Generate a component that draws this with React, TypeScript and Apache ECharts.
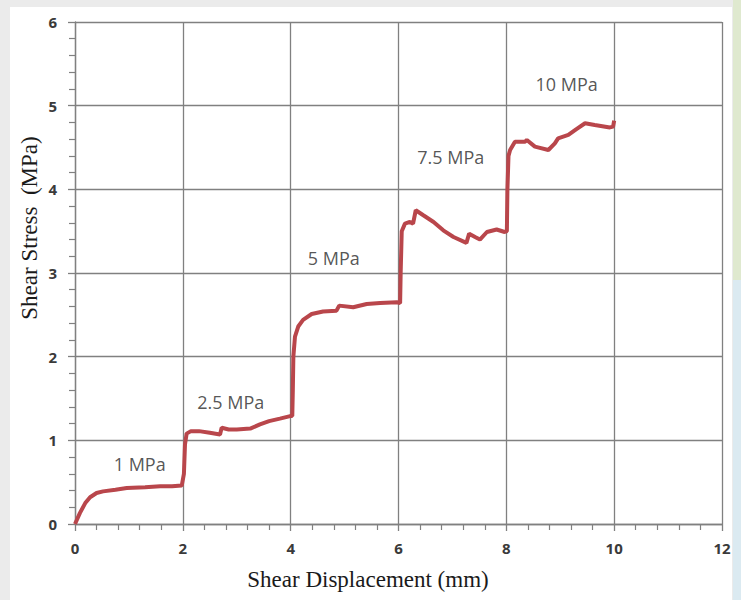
import React, { useEffect, useRef } from "react";
import * as echarts from "echarts";

const displacement = [
  0, 0.09, 0.19, 0.28, 0.4, 0.52, 0.75, 0.96, 1.3, 1.58, 1.8, 1.98,
  2.02, 2.04, 2.07, 2.15, 2.3, 2.5, 2.69, 2.72, 2.85, 3.0, 3.25, 3.43, 3.6, 3.8, 3.99,
  4.03, 4.04, 4.05, 4.08, 4.14, 4.23, 4.39, 4.6, 4.85, 4.9, 5.16, 5.41, 5.66, 5.97, 6.03,
  6.04, 6.06, 6.12, 6.21, 6.27, 6.32, 6.46, 6.65, 6.83, 7.02, 7.26, 7.31, 7.42, 7.51, 7.64, 7.82, 7.97, 8.01,
  8.02, 8.04, 8.07, 8.16, 8.35, 8.38, 8.53, 8.78, 8.9, 8.96, 9.15, 9.3, 9.46, 9.64, 9.92, 9.98, 10.0,
];
const stress = [
  0, 0.13, 0.25, 0.32, 0.37, 0.39, 0.41, 0.43, 0.44, 0.45, 0.45, 0.46,
  0.6, 0.95, 1.08, 1.11, 1.11, 1.09, 1.07, 1.15, 1.13, 1.13, 1.14, 1.19, 1.23, 1.26, 1.29,
  1.29, 1.6, 2.0, 2.24, 2.36, 2.44, 2.51, 2.54, 2.55, 2.61, 2.59, 2.63, 2.64, 2.65, 2.64,
  3.0, 3.5, 3.59, 3.61, 3.59, 3.75, 3.69, 3.61, 3.51, 3.43, 3.36, 3.47, 3.43, 3.4, 3.49, 3.52, 3.49, 3.5,
  4.0, 4.4, 4.47, 4.57, 4.57, 4.59, 4.51, 4.47, 4.55, 4.61, 4.65, 4.72, 4.79, 4.77, 4.74, 4.75, 4.82,
];

const annotationText = ["1 MPa", "2.5 MPa", "5 MPa", "7.5 MPa", "10 MPa"];
const annotationX = [1.2, 2.89, 4.8, 6.97, 9.12];
const annotationY = [0.72, 1.46, 3.18, 4.39, 5.26];

const xTicks = { min: 0, max: 12, interval: 2 };
const yTicks = { min: 0, max: 6, interval: 1 };

const xName = "Shear Displacement (mm)";
const yName = "Shear Stress  (MPa)";

export default function App() {
  const ref = useRef<HTMLDivElement>(null);
  useEffect(() => {
    if (!ref.current) return;
    const chart = echarts.init(ref.current, undefined, { renderer: "svg" });
    const gridColor = "#808080";
    const labelFont = {
      fontFamily: "Open Sans",
      fontWeight: "bold" as const,
      fontSize: 15,
      color: "#3a3a3a",
    };
    chart.setOption({
      animation: false,
      backgroundColor: "#ebebeb",
      graphic: [
        {
          type: "rect",
          z: -10,
          shape: { x: 10, y: 7, width: 722, height: 593 },
          style: { fill: "#ffffff" },
        },
        {
          type: "rect",
          z: -10,
          shape: { x: 733, y: 0, width: 8, height: 280 },
          style: { fill: "#dfe9cf" },
        },
        {
          type: "rect",
          z: -10,
          shape: { x: 733, y: 280, width: 8, height: 320 },
          style: { fill: "#dbeaf1" },
        },
        {
          type: "text",
          x: 368,
          y: 579,
          style: {
            text: xName,
            fontFamily: "Liberation Serif",
            fontSize: 23,
            fill: "#1a1a1a",
            align: "center",
            verticalAlign: "middle",
          },
        },
        {
          type: "text",
          x: 29,
          y: 228,
          rotation: Math.PI / 2,
          style: {
            text: yName,
            fontFamily: "Liberation Serif",
            fontSize: 23,
            fill: "#1a1a1a",
            align: "center",
            verticalAlign: "middle",
          },
        },
      ],
      grid: { left: 75, right: 19, top: 22, bottom: 76, containLabel: false },
      xAxis: {
        type: "value",
        min: xTicks.min,
        max: xTicks.max,
        interval: xTicks.interval,
        axisLine: { show: true, lineStyle: { color: gridColor, width: 1.3 } },
        axisTick: { show: true, length: 7, lineStyle: { color: gridColor, width: 1.3 } },
        minorTick: { show: true, splitNumber: 5, length: 6, lineStyle: { color: gridColor, width: 1.2 } },
        splitLine: { show: true, lineStyle: { color: gridColor, width: 1.3 } },
        axisLabel: { ...labelFont, margin: 16 },
      },
      yAxis: {
        type: "value",
        min: yTicks.min,
        max: yTicks.max,
        interval: yTicks.interval,
        axisLine: { show: true, lineStyle: { color: gridColor, width: 1.3 } },
        axisTick: { show: true, length: 7, lineStyle: { color: gridColor, width: 1.3 } },
        minorTick: { show: true, splitNumber: 5, length: 6, lineStyle: { color: gridColor, width: 1.2 } },
        splitLine: { show: true, lineStyle: { color: gridColor, width: 1.3 } },
        axisLabel: { ...labelFont, margin: 18 },
      },
      series: [
        {
          type: "line",
          data: displacement.map((x, i) => [x, stress[i]]),
          showSymbol: false,
          symbol: "none",
          lineStyle: { color: "#b9464b", width: 4 },
          z: 5,
        },
        {
          type: "scatter",
          symbolSize: 0,
          data: annotationX.map((x, i) => ({ value: [x, annotationY[i]], name: annotationText[i] })),
          label: {
            show: true,
            position: "inside",
            formatter: (p: any) => p.name,
            fontFamily: "Open Sans",
            fontSize: 18,
            color: "#2a2a2a",
          },
          z: 6,
        },
      ],
    });
    return () => chart.dispose();
  }, []);
  return (
    <div
      ref={ref}
      style={{ position: "absolute", left: 0, top: 0, width: 741, height: 600 }}
    />
  );
}
